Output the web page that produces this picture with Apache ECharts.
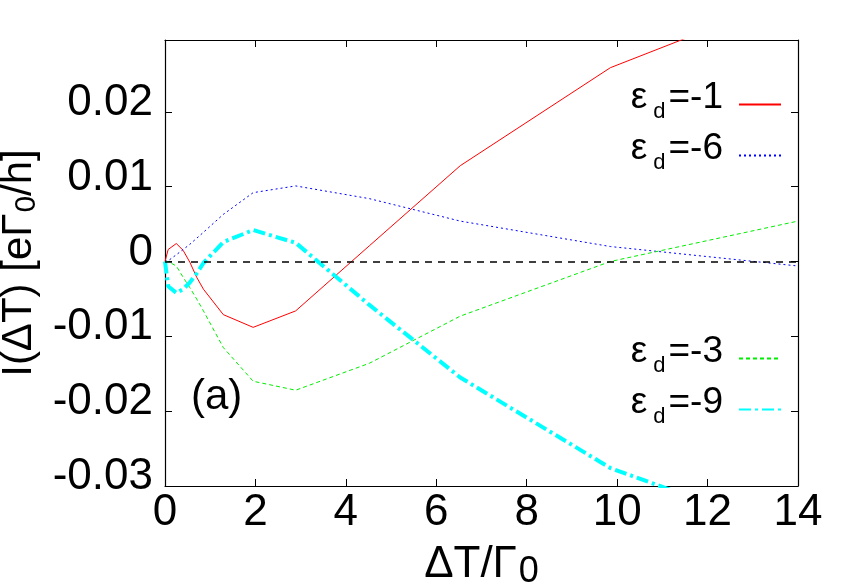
<!DOCTYPE html>
<html>
<head>
<meta charset="utf-8">
<script src="https://cdn.jsdelivr.net/npm/echarts@6/dist/echarts.min.js"></script>
<style>
  html, body { margin: 0; padding: 0; background: #fff; }
  #chart { width: 855px; height: 588px; }
</style>
</head>
<body>
<div id="chart"></div>
<script>
// values
var dT = [0, 0.07, 0.25, 0.4, 0.55, 0.7, 0.85, 1.29, 1.95, 2.89, 4.52, 6.53, 9.85, 14];
var cur1 = [0, 0.0016, 0.0024, 0.0015, -0.0001, -0.0021, -0.0037, -0.0071, -0.0088, -0.0066, 0.0021, 0.0128, 0.0259, 0.0357];
var cur6 = [0, 0.0001, 0.0009, 0.0016, 0.0023, 0.0031, 0.0039, 0.0063, 0.0092, 0.0101, 0.0084, 0.0054, 0.0020, -0.0006];
var cur3 = [0, 0, -0.0006, -0.0021, -0.0035, -0.0050, -0.0066, -0.0115, -0.0160, -0.0172, -0.0136, -0.0073, 0, 0.0054];
var cur9 = [0, -0.0033, -0.0042, -0.0037, -0.0028, -0.0016, -0.0002, 0.0026, 0.0042, 0.0025, -0.0058, -0.0155, -0.0276, -0.0367];
var xTicks = [0, 2, 4, 6, 8, 10, 12, 14];
var yTicks = ['-0.03', '-0.02', '-0.01', '0', '0.01', '0.02'];

function pairs(ys) {
  return dT.map(function(x, i) { return [x, ys[i]]; });
}

var font = 'Liberation Sans';
var chart = echarts.init(document.getElementById('chart'), null, { renderer: 'canvas' });

var legendText = {
  fontFamily: font,
  color: '#000',
  rich: {
    e: { fontFamily: font, fontSize: 37, lineHeight: 36, color: '#000', padding: [0, 0, 14, 0] },
    t: { fontFamily: font, fontSize: 37, lineHeight: 36, color: '#000', padding: [0, 11, 14, 0] },
    s: { fontFamily: font, fontSize: 22, lineHeight: 22, color: '#000', padding: [15, 3, 0, 6] }
  }
};
function legendFmt(name) {
  return '{e|ε}{s|d}{t|=' + name.split('=')[1] + '}';
}

function lineSeries(name, ys, color, width, dash) {
  return {
    name: name,
    type: 'line',
    data: pairs(ys),
    symbol: 'none',
    clip: true,
    lineStyle: { color: color, width: width, type: dash },
    itemStyle: { color: color }
  };
}

var series = [
  lineSeries('εd=-1', cur1, '#ff0000', 1, 'solid'),
  lineSeries('εd=-6', cur6, '#0000ff', 1, [2, 3]),
  lineSeries('εd=-3', cur3, '#00ee00', 1, [4, 3]),
  lineSeries('εd=-9', cur9, '#00ffff', 4, [12, 4, 3, 4])
];
series[0].markLine = {
  silent: true,
  symbol: 'none',
  label: { show: false },
  lineStyle: { color: '#000', width: 1.5, type: [7, 6] },
  data: [{ yAxis: 0 }]
};

function legendBox(names, top) {
  return {
    data: names,
    orient: 'vertical',
    right: 68,
    top: top,
    align: 'right',
    itemWidth: 42,
    itemHeight: 14,
    itemGap: 0,
    selectedMode: false,
    itemStyle: { opacity: 0 },
    formatter: legendFmt,
    textStyle: legendText
  };
}

function frameAxis(extra) {
  var ax = {
    type: 'value',
    axisLine: { show: true, onZero: false, lineStyle: { color: '#000', width: 1.2 } },
    axisTick: { show: true, inside: true, length: 7, lineStyle: { color: '#000' } },
    axisLabel: { show: false },
    splitLine: { show: false }
  };
  for (var k in extra) ax[k] = extra[k];
  return ax;
}

chart.setOption({
  animation: false,
  backgroundColor: '#fff',
  grid: { left: 165, right: 57, top: 40, bottom: 102, outerBoundsMode: 'none', containLabel: false },
  legend: [legendBox(['εd=-1', 'εd=-6'], 74), legendBox(['εd=-3', 'εd=-9'], 328)],
  xAxis: [frameAxis({
    position: 'bottom',
    min: 0,
    max: 14,
    interval: 2,
    name: '{m|ΔT/Γ}{s|0}',
    nameLocation: 'middle',
    nameGap: 44,
    nameTextStyle: {
      rich: {
        m: { fontFamily: font, fontSize: 44, lineHeight: 44, color: '#000' },
        s: { fontFamily: font, fontSize: 36, lineHeight: 44, color: '#000', padding: [14, 0, 0, 2] }
      }
    },
    axisLabel: {
      show: true, fontFamily: font, fontSize: 44, color: '#000', margin: 5,
      formatter: function(v) { return xTicks.indexOf(v) >= 0 ? String(v) : ''; }
    }
  }), frameAxis({
    position: 'top',
    min: 0,
    max: 14,
    interval: 2
  })],
  yAxis: [frameAxis({
    position: 'left',
    min: -0.03,
    max: 0.0296,
    interval: 0.01,
    name: '{m|I(ΔT) [eΓ}{s|0}{m|/h]}',
    nameLocation: 'middle',
    nameGap: 106,
    nameRotate: 90,
    nameTextStyle: {
      rich: {
        m: { fontFamily: font, fontSize: 42, lineHeight: 42, color: '#000' },
        s: { fontFamily: font, fontSize: 30, lineHeight: 42, color: '#000', padding: [14, 0, 0, 1] }
      }
    },
    axisLabel: {
      show: true, margin: 12,
      showMaxLabel: false,
      formatter: function(v) {
        var i = Math.round((v + 0.03) / 0.01);
        return '{v|' + (yTicks[i] || '') + '}\n{g| }';
      },
      rich: {
        v: { fontFamily: font, fontSize: 44, lineHeight: 44, color: '#000' },
        g: { fontSize: 2, lineHeight: 18 }
      }
    }
  }), frameAxis({
    position: 'right',
    min: -0.03,
    max: 0.0296,
    interval: 0.01
  })],
  graphic: [{
    type: 'text',
    left: 191,
    top: 376,
    style: { text: '(a)', fontFamily: font, fontSize: 42, fill: '#000' }
  }],
  series: series
});
window.addEventListener('resize', function() { chart.resize(); });
</script>
</body>
</html>
